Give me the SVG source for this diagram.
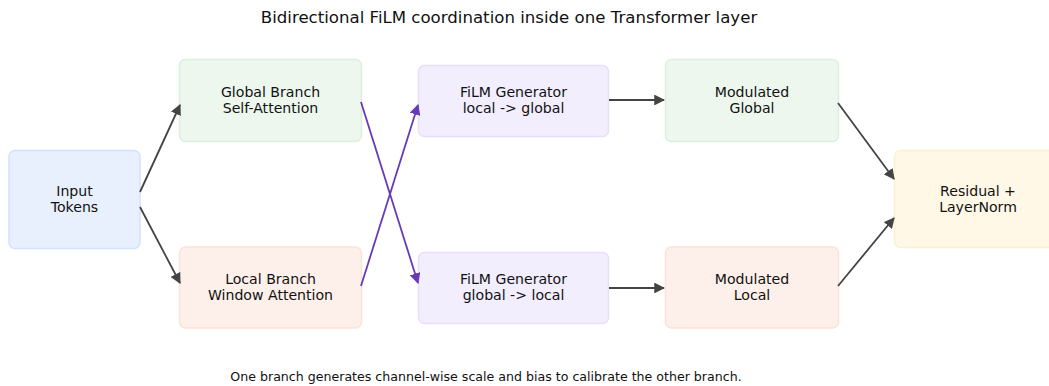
<svg xmlns="http://www.w3.org/2000/svg" width="1049" height="386" viewBox="0 0 1049 386">
<style>
text{font-family:"DejaVu Sans","Liberation Sans",sans-serif;fill:#111;}
.lbl{font-size:14.1px;text-anchor:middle;}
.box{stroke-width:1.5;}
.e{fill:none;stroke:#444;stroke-width:1.8;}
.p{fill:none;stroke:#673ab7;stroke-width:1.8;}
</style>
<defs>
<marker id="ad" viewBox="0 0 10 10" refX="9" refY="5" markerWidth="6" markerHeight="6" orient="auto" markerUnits="strokeWidth"><path d="M0,0 L10,5 L0,10 z" fill="#444"/></marker>
<marker id="ap" viewBox="0 0 10 10" refX="9" refY="5" markerWidth="6" markerHeight="6" orient="auto" markerUnits="strokeWidth"><path d="M0,0 L10,5 L0,10 z" fill="#673ab7"/></marker>
</defs>
<rect width="1049" height="386" fill="#fff"/>
<text x="509" y="23" style="font-size:16.6px;text-anchor:middle">Bidirectional FiLM coordination inside one Transformer layer</text>
<g id="input"><rect class="box" x="9" y="150.5" width="131" height="98" rx="6" fill="#e8f0fe" stroke="#d3e2fc"/><text class="lbl" x="74.5" y="196">Input</text><text class="lbl" x="74.5" y="212">Tokens</text></g>
<g id="global"><rect class="box" x="179.5" y="59.5" width="182" height="82" rx="6" fill="#edf7ee" stroke="#dcefdd"/><text class="lbl" x="270.5" y="97">Global Branch</text><text class="lbl" x="270.5" y="113">Self-Attention</text></g>
<g id="local"><rect class="box" x="179.5" y="247" width="182" height="81" rx="6" fill="#fdf0ea" stroke="#fbe3d7"/><text class="lbl" x="270.5" y="284">Local Branch</text><text class="lbl" x="270.5" y="300">Window Attention</text></g>
<g id="film1"><rect class="box" x="418.5" y="65.5" width="190" height="71" rx="6" fill="#f3eefe" stroke="#e8ddfc"/><text class="lbl" x="513.5" y="97">FiLM Generator</text><text class="lbl" x="513.5" y="113">local -&gt; global</text></g>
<g id="film2"><rect class="box" x="418.5" y="252.5" width="190" height="71" rx="6" fill="#f3eefe" stroke="#e8ddfc"/><text class="lbl" x="513.5" y="284">FiLM Generator</text><text class="lbl" x="513.5" y="300">global -&gt; local</text></g>
<g id="modg"><rect class="box" x="665.5" y="59.5" width="173" height="82" rx="6" fill="#edf7ee" stroke="#dcefdd"/><text class="lbl" x="752" y="97">Modulated</text><text class="lbl" x="752" y="113">Global</text></g>
<g id="modl"><rect class="box" x="665.5" y="247" width="173" height="81" rx="6" fill="#fdf0ea" stroke="#fbe3d7"/><text class="lbl" x="752" y="284">Modulated</text><text class="lbl" x="752" y="300">Local</text></g>
<g id="res"><rect class="box" x="894.5" y="150.5" width="168" height="97" rx="6" fill="#fff8e6" stroke="#fdf0cf"/><text class="lbl" x="978" y="196">Residual +</text><text class="lbl" x="978" y="212">LayerNorm</text></g>
<g id="connectors">
<line class="e" x1="140" y1="192" x2="180" y2="105" marker-end="url(#ad)"/>
<line class="e" x1="140" y1="207" x2="180" y2="283" marker-end="url(#ad)"/>
<line class="p" x1="361" y1="102" x2="418" y2="283" marker-end="url(#ap)"/>
<line class="p" x1="361" y1="286" x2="418" y2="105" marker-end="url(#ap)"/>
<line class="e" x1="609" y1="100" x2="664" y2="100" marker-end="url(#ad)"/>
<line class="e" x1="609" y1="288" x2="664" y2="288" marker-end="url(#ad)"/>
<line class="e" x1="838" y1="103" x2="894" y2="179" marker-end="url(#ad)"/>
<line class="e" x1="838" y1="286" x2="894" y2="218" marker-end="url(#ad)"/>
</g>
<text x="486" y="381" style="font-size:12.6px;text-anchor:middle">One branch generates channel-wise scale and bias to calibrate the other branch.</text>
</svg>
